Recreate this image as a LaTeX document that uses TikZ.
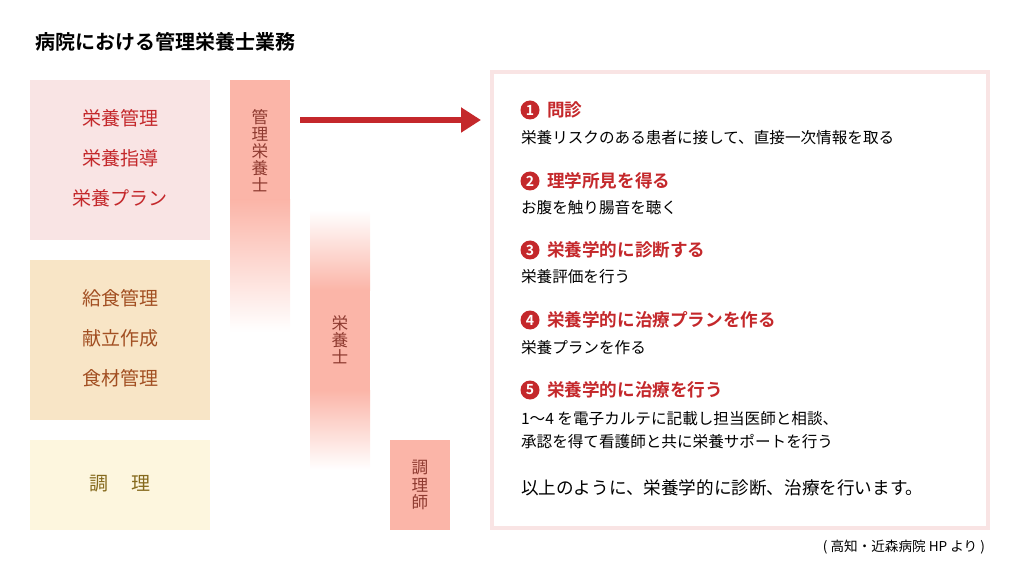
\documentclass[tikz,border=0pt]{standalone}
\usepackage{fontspec}
\setmainfont{Noto Sans CJK JP}[BoldFont={Noto Sans CJK JP Bold}]
\usetikzlibrary{arrows.meta}
\definecolor{barpink}{HTML}{FBB5A8}
\definecolor{darkred}{HTML}{C4282B}
\definecolor{boxpink}{HTML}{F9E4E4}
\definecolor{boxtan}{HTML}{F8E5C6}
\definecolor{boxyellow}{HTML}{FDF6DE}
\definecolor{textbrown}{HTML}{A24F22}
\definecolor{textolive}{HTML}{85691C}
\definecolor{barText}{HTML}{8E3A30}
\tikzset{
  task/.style={font=\fontsize{9.5}{20}\selectfont, align=center, anchor=center},
  bartext/.style={font=\fontsize{8.3}{8.6}\selectfont, text=barText, align=center},
  head/.style={font=\bfseries\fontsize{8.8}{10}\selectfont, text=darkred, anchor=west},
  desc/.style={font=\fontsize{7.8}{11.5}\selectfont, anchor=west, align=left},
  num/.style={circle, fill=darkred, text=white, inner sep=0pt, minimum size=9.5pt, font=\bfseries\fontsize{7}{7}\selectfont}
}
\begin{document}
\begin{tikzpicture}[x=0.5pt,y=-0.5pt]
\useasboundingbox (0,0) rectangle (1020,587);
% title
\node[anchor=west, font=\bfseries\fontsize{10}{11}\selectfont] (title) at (28,42) {病院における管理栄養士業務};
% left boxes
\fill[boxpink] (30,80) rectangle (210,240);
\node[task, text=darkred] (t1) at (120,158) {栄養管理\\栄養指導\\栄養プラン};
\fill[boxtan] (30,260) rectangle (210,420);
\node[task, text=textbrown] (t2) at (120,338) {給食管理\\献立作成\\食材管理};
\fill[boxyellow] (30,440) rectangle (210,530);
\node[task, text=textolive] (t3) at (120,484) {調\hspace{1.2em}理};
% bars
\fill[barpink] (230,80) rectangle (290,200);
\shade[top color=barpink, bottom color=white] (230,200) rectangle (290,332);
\node[bartext, anchor=north] (b1) at (260,102) {管\\理\\栄\\養\\士};
\shade[top color=white, bottom color=barpink] (310,210) rectangle (370,290);
\fill[barpink] (310,290) rectangle (370,390);
\shade[top color=barpink, bottom color=white] (310,390) rectangle (370,470);
\node[bartext] (b2) at (340,340) {栄\\養\\士};
\fill[barpink] (390,440) rectangle (450,530);
\node[bartext] (b3) at (420,485) {調\\理\\師};
% arrow
\coordinate (a0) at (300,120);
\coordinate (a1) at (481,120);
\draw[darkred, line width=3pt, -{Triangle[length=10pt,width=12pt]}] (a0) -- (a1);
% right box
\draw[boxpink, line width=2pt] (492,72) rectangle (988,528);
\node[num] (n1) at (530,110) {1};
\node[head] (h1) at (540,110) {問診};
\node[desc] (d1) at (514,138) {栄養リスクのある患者に接して、直接一次情報を取る};
\node[num] (n2) at (530,181) {2};
\node[head] (h2) at (540,181) {理学所見を得る};
\node[desc] (d2) at (514,208) {お腹を触り腸音を聴く};
\node[num] (n3) at (530,250) {3};
\node[head] (h3) at (540,250) {栄養学的に診断する};
\node[desc] (d3) at (514,277) {栄養評価を行う};
\node[num] (n4) at (530,320) {4};
\node[head] (h4) at (540,320) {栄養学的に治療プランを作る};
\node[desc] (d4) at (514,348) {栄養プランを作る};
\node[num] (n5) at (530,390) {5};
\node[head] (h5) at (540,390) {栄養学的に治療を行う};
\node[desc] (d5) at (514,430) {1～4 を電子カルテに記載し担当医師と相談、\\承認を得て看護師と共に栄養サポートを行う};
\node[anchor=west, font=\fontsize{8.8}{10}\selectfont] (d6) at (514,488) {以上のように、栄養学的に診断、治療を行います。};
% source
\node[anchor=east, font=\fontsize{6.8}{8}\selectfont] (src) at (992,547) {( 高知・近森病院 HP より )};
\end{tikzpicture}
\end{document}
